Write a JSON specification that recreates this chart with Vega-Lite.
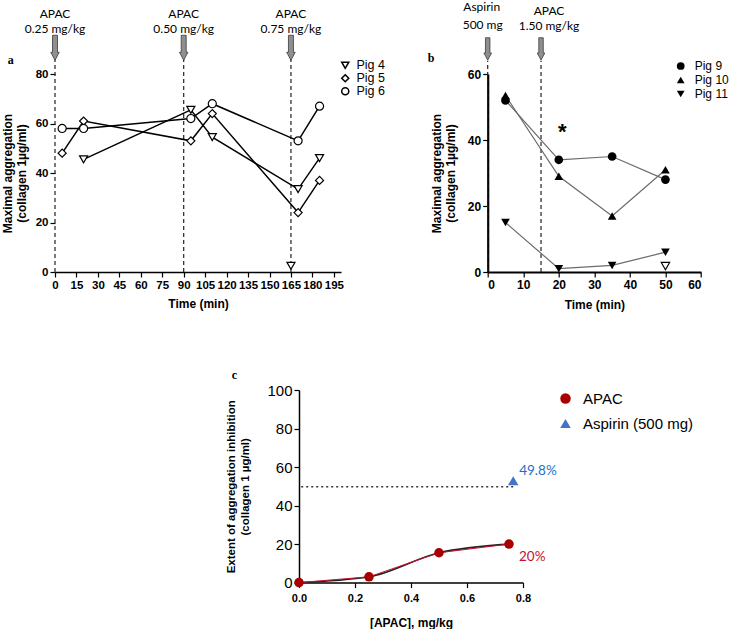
{
  "$schema": "https://vega.github.io/schema/vega-lite/v6.json",
  "autosize": {"type": "pad"},
  "padding": {"left": 1, "top": 1, "right": 0, "bottom": 0},
  "background": "white",
  "bounds": "flush",
  "spacing": 316,
  "resolve": {"scale": {"shape": "independent", "color": "independent"}, "legend": {"shape": "independent", "color": "independent"}},
  "config": {
    "view": {"stroke": null},
    "axis": {
      "grid": false, "domainColor": "#000", "tickColor": "#000", "labelColor": "#000", "titleColor": "#000",
      "labelFont": "Liberation Sans", "titleFont": "Liberation Sans", "labelFontWeight": "bold", "titleFontWeight": "bold",
      "domainWidth": 1.5, "tickWidth": 1.2, "tickSize": 5, "labelFontSize": 11.5, "titleFontSize": 12, "titleLineHeight": 14,
      "labelOverlap": false, "tickCount": 30
    },
    "legend": {"labelFont": "Liberation Sans", "labelColor": "#000", "padding": 0}
  },
  "datasets": {
    "pigsA": [
      {"pig": "Pig 4", "time": 20, "agg": 45.5},
      {"pig": "Pig 4", "time": 95, "agg": 65.5},
      {"pig": "Pig 4", "time": 110, "agg": 54.5},
      {"pig": "Pig 4", "time": 170, "agg": 33.5},
      {"pig": "Pig 4", "time": 185, "agg": 46},
      {"pig": "Pig 5", "time": 5, "agg": 48},
      {"pig": "Pig 5", "time": 20, "agg": 61},
      {"pig": "Pig 5", "time": 95, "agg": 53},
      {"pig": "Pig 5", "time": 110, "agg": 64},
      {"pig": "Pig 5", "time": 170, "agg": 24},
      {"pig": "Pig 5", "time": 185, "agg": 37},
      {"pig": "Pig 6", "time": 5, "agg": 58},
      {"pig": "Pig 6", "time": 20, "agg": 58},
      {"pig": "Pig 6", "time": 95, "agg": 62},
      {"pig": "Pig 6", "time": 110, "agg": 68},
      {"pig": "Pig 6", "time": 170, "agg": 53},
      {"pig": "Pig 6", "time": 185, "agg": 67}
    ],
    "extraA": [{"time": 165, "agg": 2.5}],
    "dosesA": [
      {"time": 0, "line1": "APAC", "line2": "0.25 mg/kg"},
      {"time": 90, "line1": "APAC", "line2": "0.50 mg/kg"},
      {"time": 165, "line1": "APAC", "line2": "0.75 mg/kg"}
    ],
    "pigsB": [
      {"pig": "Pig 9", "time": 5, "agg": 52},
      {"pig": "Pig 9", "time": 20, "agg": 34},
      {"pig": "Pig 9", "time": 35, "agg": 35},
      {"pig": "Pig 9", "time": 50, "agg": 28},
      {"pig": "Pig 10", "time": 5, "agg": 53.5},
      {"pig": "Pig 10", "time": 20, "agg": 29},
      {"pig": "Pig 10", "time": 35, "agg": 17},
      {"pig": "Pig 10", "time": 50, "agg": 31},
      {"pig": "Pig 11", "time": 5, "agg": 15},
      {"pig": "Pig 11", "time": 20, "agg": 1},
      {"pig": "Pig 11", "time": 35, "agg": 2},
      {"pig": "Pig 11", "time": 50, "agg": 6}
    ],
    "extraB": [{"time": 50, "agg": 1.8}],
    "dosesB": [
      {"time": 0, "line1": "Aspirin", "line2": "500 mg"},
      {"time": 15, "line1": "APAC", "line2": "1.50 mg/kg"}
    ],
    "starB": [{"time": 21, "mark": "*"}],
    "inhibC": [
      {"series": "APAC", "dose": 0, "inhib": 0, "label": ""},
      {"series": "APAC", "dose": 0.25, "inhib": 3, "label": ""},
      {"series": "APAC", "dose": 0.5, "inhib": 15.5, "label": ""},
      {"series": "APAC", "dose": 0.75, "inhib": 20, "label": "20%"},
      {"series": "Aspirin (500 mg)", "dose": 0.765, "inhib": 49.8, "label": "49.8%"}
    ]
  },
  "vconcat": [
    {
      "bounds": "flush",
      "spacing": 146.7,
      "resolve": {"scale": {"shape": "independent", "color": "independent"}, "legend": {"shape": "independent", "color": "independent"}},
      "hconcat": [
        {
          "width": 286,
          "height": 198,
          "layer": [
            {
              "data": {"values": [{"tag": "a"}]},
              "mark": {"type": "text", "font": "Liberation Serif", "fontWeight": "bold", "fontSize": 12, "baseline": "middle", "color": "#000"},
              "encoding": {
                "x": {"datum": -31, "type": "quantitative"},
                "y": {"datum": 85.5, "type": "quantitative"},
                "text": {"field": "tag", "type": "nominal"}
              }
            },
            {
              "data": {"name": "dosesA"},
              "mark": {"type": "rule", "strokeDash": [4, 3], "strokeWidth": 1.2, "color": "#222"},
              "encoding": {
                "x": {"field": "time", "type": "quantitative"},
                "y": {"datum": 0, "type": "quantitative"},
                "y2": {"datum": 86}
              }
            },
            {
              "data": {"name": "dosesA"},
              "mark": {"type": "point", "shape": "M-0.2,-1 L0.2,-1 L0.2,0.36 L0.34,0.36 L0,1 L-0.34,0.36 L-0.2,0.36 Z", "size": 625, "filled": true, "fill": "#8f8f8f", "stroke": "#3a3a3a", "strokeWidth": 0.8, "opacity": 1},
              "encoding": {
                "x": {"field": "time", "type": "quantitative"},
                "y": {"datum": 90.6, "type": "quantitative"}
              }
            },
            {
              "data": {"name": "dosesA"},
              "mark": {"type": "text", "font": "Lato", "fontSize": 12, "baseline": "middle", "color": "#000"},
              "encoding": {
                "x": {"field": "time", "type": "quantitative"},
                "y": {"datum": 104.4, "type": "quantitative"},
                "text": {"field": "line1", "type": "nominal"}
              }
            },
            {
              "data": {"name": "dosesA"},
              "mark": {"type": "text", "font": "Lato", "fontSize": 12, "baseline": "middle", "color": "#000"},
              "encoding": {
                "x": {"field": "time", "type": "quantitative"},
                "y": {"datum": 98.3, "type": "quantitative"},
                "text": {"field": "line2", "type": "nominal"}
              }
            },
            {
              "data": {"name": "pigsA"},
              "mark": {"type": "line", "color": "#000", "strokeWidth": 1.5},
              "encoding": {
                "x": {"field": "time", "type": "quantitative", "scale": {"domain": [0, 200]},
                  "axis": {"values": [0, 15, 30, 45, 60, 75, 90, 105, 120, 135, 150, 165, 180, 195], "tickCount": 30, "labelOverlap": false, "title": "Time (min)", "titlePadding": 8, "labelFlush": false}},
                "y": {"field": "agg", "type": "quantitative", "scale": {"domain": [0, 80]},
                  "axis": {"values": [0, 20, 40, 60, 80], "tickCount": 30, "labelOverlap": false, "domain": false, "title": ["Maximal aggregation", "(collagen 1µg/ml)"], "titlePadding": 7}},
                "detail": {"field": "pig", "type": "nominal"}
              }
            },
            {
              "data": {"name": "pigsA"},
              "mark": {"type": "point", "filled": true, "fill": "white", "stroke": "#000", "strokeWidth": 1.2, "opacity": 1, "size": 65},
              "encoding": {
                "x": {"field": "time", "type": "quantitative"},
                "y": {"field": "agg", "type": "quantitative"},
                "shape": {"field": "pig", "type": "nominal",
                  "scale": {"domain": ["Pig 4", "Pig 5", "Pig 6"], "range": ["triangle-down", "diamond", "circle"]},
                  "legend": {"title": null, "orient": "none", "legendX": 284, "legendY": -15, "labelFontSize": 12.5, "rowPadding": -3, "labelOffset": 5,
                    "symbolSize": 50,
                    "encode": {"symbols": {
                      "shape": {"value": {"expr": "datum.value === 'Pig 4' ? 'M-1,-0.8 L1,-0.8 L0,1 Z M-1.5,-0.1 L1.5,-0.1' : datum.value === 'Pig 5' ? 'M0,-1 L1,0 L0,1 L-1,0 Z M-1.5,0 L1.5,0' : 'M-1,0 A1,1 0 1,0 1,0 A1,1 0 1,0 -1,0 Z M-1.5,0 L1.5,0'"}},
                      "fill": {"value": "white"}, "stroke": {"value": "#000"}, "strokeWidth": {"value": 1.2}, "opacity": {"value": 1}}}}}
              }
            },
            {
              "data": {"name": "extraA"},
              "mark": {"type": "point", "shape": "triangle-down", "filled": true, "fill": "white", "stroke": "#000", "strokeWidth": 1.2, "opacity": 1, "size": 65},
              "encoding": {
                "x": {"field": "time", "type": "quantitative"},
                "y": {"field": "agg", "type": "quantitative"}
              }
            }
          ]
        },
        {
          "width": 213.3,
          "height": 198,
          "layer": [
            {
              "data": {"values": [{"tag": "b"}]},
              "mark": {"type": "text", "font": "Liberation Serif", "fontWeight": "bold", "fontSize": 12, "baseline": "middle", "color": "#000"},
              "encoding": {
                "x": {"datum": -15.9, "type": "quantitative"},
                "y": {"datum": 64.8, "type": "quantitative"},
                "text": {"field": "tag", "type": "nominal"}
              }
            },
            {
              "data": {"name": "dosesB"},
              "mark": {"type": "rule", "strokeDash": [4, 3], "strokeWidth": 1.2, "color": "#222"},
              "encoding": {
                "x": {"field": "time", "type": "quantitative"},
                "y": {"datum": 0, "type": "quantitative"},
                "y2": {"datum": 64}
              }
            },
            {
              "data": {"name": "dosesB"},
              "mark": {"type": "point", "shape": "M-0.2,-1 L0.2,-1 L0.2,0.36 L0.34,0.36 L0,1 L-0.34,0.36 L-0.2,0.36 Z", "size": 500, "filled": true, "fill": "#8f8f8f", "stroke": "#3a3a3a", "strokeWidth": 0.8, "opacity": 1},
              "encoding": {
                "x": {"field": "time", "type": "quantitative"},
                "y": {"datum": 67.6, "type": "quantitative"}
              }
            },
            {
              "data": {"name": "dosesB"},
              "transform": [{"filter": "datum.time === 0"}],
              "mark": {"type": "text", "font": "Lato", "fontSize": 12, "baseline": "middle", "color": "#000", "dx": -6},
              "encoding": {
                "x": {"field": "time", "type": "quantitative"},
                "y": {"datum": 80.3, "type": "quantitative"},
                "text": {"field": "line1", "type": "nominal"}
              }
            },
            {
              "data": {"name": "dosesB"},
              "transform": [{"filter": "datum.time === 0"}],
              "mark": {"type": "text", "font": "Lato", "fontSize": 12, "baseline": "middle", "color": "#000", "dx": -5},
              "encoding": {
                "x": {"field": "time", "type": "quantitative"},
                "y": {"datum": 74.8, "type": "quantitative"},
                "text": {"field": "line2", "type": "nominal"}
              }
            },
            {
              "data": {"name": "dosesB"},
              "transform": [{"filter": "datum.time !== 0"}],
              "mark": {"type": "text", "font": "Lato", "fontSize": 12, "baseline": "middle", "color": "#000", "dx": 8},
              "encoding": {
                "x": {"field": "time", "type": "quantitative"},
                "y": {"datum": 79.2, "type": "quantitative"},
                "text": {"field": "line1", "type": "nominal"}
              }
            },
            {
              "data": {"name": "dosesB"},
              "transform": [{"filter": "datum.time !== 0"}],
              "mark": {"type": "text", "font": "Lato", "fontSize": 12, "baseline": "middle", "color": "#000", "dx": 8},
              "encoding": {
                "x": {"field": "time", "type": "quantitative"},
                "y": {"datum": 74.6, "type": "quantitative"},
                "text": {"field": "line2", "type": "nominal"}
              }
            },
            {
              "data": {"name": "starB"},
              "mark": {"type": "text", "font": "Liberation Sans", "fontWeight": "bold", "fontSize": 22, "baseline": "middle", "color": "#000"},
              "encoding": {
                "x": {"field": "time", "type": "quantitative"},
                "y": {"datum": 42.5, "type": "quantitative"},
                "text": {"field": "mark", "type": "nominal"}
              }
            },
            {
              "data": {"name": "pigsB"},
              "mark": {"type": "line", "color": "#6b6b6b", "strokeWidth": 1.2},
              "encoding": {
                "x": {"field": "time", "type": "quantitative", "scale": {"domain": [0, 60]},
                  "axis": {"values": [0, 10, 20, 30, 40, 50, 60], "tickCount": 30, "labelOverlap": false, "title": "Time (min)", "titlePadding": 9, "labelFontSize": 12, "domainWidth": 2}},
                "y": {"field": "agg", "type": "quantitative", "scale": {"domain": [0, 60]},
                  "axis": {"values": [0, 20, 40, 60], "tickCount": 30, "labelOverlap": false, "domainWidth": 2.2, "labelFontSize": 12, "title": ["Maximal aggregation", "(collagen 1µg/ml)"], "titlePadding": 10}},
                "detail": {"field": "pig", "type": "nominal"}
              }
            },
            {
              "data": {"name": "pigsB"},
              "mark": {"type": "point", "filled": true, "color": "#000", "opacity": 1, "size": 75},
              "encoding": {
                "x": {"field": "time", "type": "quantitative"},
                "y": {"field": "agg", "type": "quantitative"},
                "shape": {"field": "pig", "type": "nominal",
                  "scale": {"domain": ["Pig 9", "Pig 10", "Pig 11"], "range": ["circle", "triangle-up", "triangle-down"]},
                  "legend": {"title": null, "orient": "none", "legendX": 187, "legendY": -14, "labelFontSize": 12, "rowPadding": 0, "labelOffset": 8,
                    "symbolSize": 60,
                    "encode": {"symbols": {
                      "shape": {"value": {"expr": "datum.value === 'Pig 9' ? 'M-1,0 A1,1 0 1,0 1,0 A1,1 0 1,0 -1,0 Z M-1.6,0 L1.6,0' : datum.value === 'Pig 10' ? 'M-1,0.8 L1,0.8 L0,-1 Z M-1.6,0.1 L1.6,0.1' : 'M-1,-0.8 L1,-0.8 L0,1 Z M-1.6,-0.1 L1.6,-0.1'"}},
                      "fill": {"value": "#000"}, "stroke": {"value": "#000"}, "strokeWidth": {"value": 1}, "opacity": {"value": 1}}}}}
              }
            },
            {
              "data": {"name": "extraB"},
              "mark": {"type": "point", "shape": "triangle-down", "filled": true, "fill": "white", "stroke": "#000", "strokeWidth": 1.2, "opacity": 1, "size": 70},
              "encoding": {
                "x": {"field": "time", "type": "quantitative"},
                "y": {"field": "agg", "type": "quantitative"}
              }
            }
          ]
        }
      ]
    },
    {
      "bounds": "flush",
      "spacing": 243,
      "resolve": {"scale": {"shape": "independent", "color": "independent"}, "legend": {"shape": "independent", "color": "independent"}},
      "hconcat": [
        {
          "width": 1,
          "height": 192.6,
          "data": {"values": [{"blank": ""}]},
          "mark": {"type": "text"},
          "encoding": {"text": {"field": "blank", "type": "nominal"}}
        },
        {
          "width": 224,
          "height": 192.6,
          "data": {"name": "inhibC"},
          "layer": [
            {
              "data": {"values": [{"tag": "c"}]},
              "mark": {"type": "text", "font": "Liberation Serif", "fontWeight": "bold", "fontSize": 12, "baseline": "middle", "color": "#000"},
              "encoding": {
                "x": {"datum": -0.231, "type": "quantitative"},
                "y": {"datum": 107.6, "type": "quantitative"},
                "text": {"field": "tag", "type": "nominal"}
              }
            },
            {
              "transform": [{"filter": "datum.series !== 'APAC'"}],
              "mark": {"type": "rule", "strokeDash": [2, 3], "strokeWidth": 1.5, "color": "#333"},
              "encoding": {
                "x": {"field": "dose", "type": "quantitative"},
                "x2": {"datum": 0},
                "y": {"field": "inhib", "type": "quantitative"}
              }
            },
            {
              "transform": [{"filter": "datum.series === 'APAC'"}],
              "mark": {"type": "line", "color": "#222", "strokeWidth": 1.6, "interpolate": "monotone"},
              "encoding": {
                "x": {"field": "dose", "type": "quantitative", "scale": {"domain": [0, 0.8]},
                  "axis": {"values": [0, 0.2, 0.4, 0.6, 0.8], "tickCount": 30, "labelOverlap": false, "format": ".1f", "labelFontSize": 11, "labelPadding": 5, "title": "[APAC], mg/kg", "titlePadding": 14, "labelFlush": false}},
                "y": {"field": "inhib", "type": "quantitative", "scale": {"domain": [0, 100]},
                  "axis": {"values": [0, 20, 40, 60, 80, 100], "tickCount": 30, "labelOverlap": false, "labelFontWeight": "normal", "labelFontSize": 15, "titleFontSize": 11.5,
                    "title": ["Extent of aggregation inhibition", "(collagen 1 µg/ml)"], "titlePadding": 16}}
              }
            },
            {
              "transform": [{"filter": "datum.series === 'APAC'"}],
              "mark": {"type": "line", "color": "#c8102e", "strokeWidth": 1},
              "encoding": {
                "x": {"field": "dose", "type": "quantitative"},
                "y": {"field": "inhib", "type": "quantitative"}
              }
            },
            {
              "transform": [{"filter": "datum.series === 'APAC'"}],
              "mark": {"type": "point", "filled": true, "opacity": 1, "size": 90},
              "encoding": {
                "x": {"field": "dose", "type": "quantitative"},
                "y": {"field": "inhib", "type": "quantitative"},
                "shape": {"field": "series", "type": "nominal",
                  "scale": {"domain": ["APAC", "Aspirin (500 mg)"], "range": ["circle", "triangle-up"]},
                  "legend": {"title": null, "orient": "none", "legendX": 259, "legendY": 1, "labelFontSize": 15, "rowPadding": 9, "labelOffset": 10, "symbolSize": 110,
                    "encode": {"symbols": {
                      "shape": {"value": {"expr": "datum.value === 'APAC' ? 'M-0.6,0 A0.6,0.6 0 1,0 0.6,0 A0.6,0.6 0 1,0 -0.6,0 Z M-1.2,0 L1.2,0' : 'triangle-up'"}},
                      "stroke": {"value": {"expr": "datum.value === 'APAC' ? '#c8102e' : '#4472c4'"}}, "strokeWidth": {"value": 1}, "opacity": {"value": 1}}}}},
                "color": {"field": "series", "type": "nominal",
                  "scale": {"domain": ["APAC", "Aspirin (500 mg)"], "range": ["#a80000", "#4472c4"]},
                  "legend": {"title": null, "orient": "none", "legendX": 259, "legendY": 1, "labelFontSize": 15, "rowPadding": 9, "labelOffset": 10, "symbolSize": 110,
                    "encode": {"symbols": {
                      "shape": {"value": {"expr": "datum.value === 'APAC' ? 'M-0.6,0 A0.6,0.6 0 1,0 0.6,0 A0.6,0.6 0 1,0 -0.6,0 Z M-1.2,0 L1.2,0' : 'triangle-up'"}},
                      "stroke": {"value": {"expr": "datum.value === 'APAC' ? '#c8102e' : '#4472c4'"}}, "strokeWidth": {"value": 1}, "opacity": {"value": 1}}}}}
              }
            },
            {
              "transform": [{"filter": "datum.series !== 'APAC'"}],
              "mark": {"type": "point", "filled": true, "opacity": 1, "size": 110, "yOffset": -6},
              "encoding": {
                "x": {"field": "dose", "type": "quantitative"},
                "y": {"field": "inhib", "type": "quantitative"},
                "shape": {"field": "series", "type": "nominal"},
                "color": {"field": "series", "type": "nominal"}
              }
            },
            {
              "transform": [{"filter": "datum.series === 'APAC' && datum.label !== ''"}],
              "mark": {"type": "text", "font": "Lato", "fontSize": 13.5, "align": "left", "baseline": "middle", "dx": 10, "dy": 13, "color": "#c8102e"},
              "encoding": {
                "x": {"field": "dose", "type": "quantitative"},
                "y": {"field": "inhib", "type": "quantitative"},
                "text": {"field": "label", "type": "nominal"}
              }
            },
            {
              "transform": [{"filter": "datum.series !== 'APAC'"}],
              "mark": {"type": "text", "font": "Lato", "fontSize": 13.5, "align": "left", "baseline": "middle", "dx": 6, "dy": -16, "color": "#1f6fc5"},
              "encoding": {
                "x": {"field": "dose", "type": "quantitative"},
                "y": {"field": "inhib", "type": "quantitative"},
                "text": {"field": "label", "type": "nominal"}
              }
            }
          ]
        }
      ]
    }
  ]
}
